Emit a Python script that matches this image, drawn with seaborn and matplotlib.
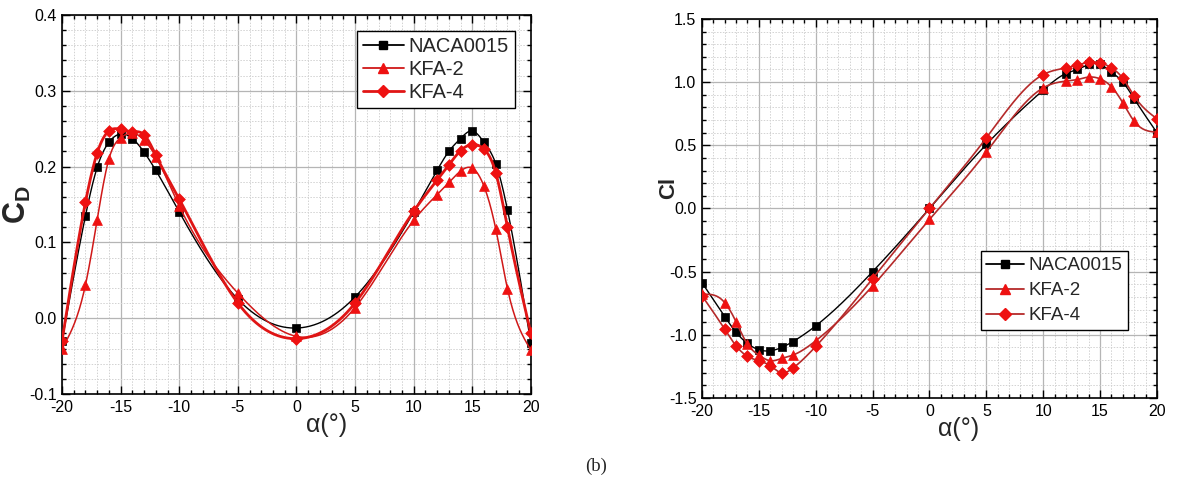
import numpy as np
import pandas as pd
import matplotlib
matplotlib.use("Agg")
import matplotlib.pyplot as plt
from matplotlib.lines import Line2D
from matplotlib.ticker import MultipleLocator, FormatStrFormatter
import seaborn as sns

# ---------------- data ----------------
alpha = [-20, -18, -17, -16, -15, -14, -13, -12, -10, -5, 0, 5,
         10, 12, 13, 14, 15, 16, 17, 18, 20]

cd_naca = [-0.030, 0.135, 0.199, 0.232, 0.243, 0.237, 0.219, 0.195, 0.140, 0.025, -0.013, 0.028,
           0.140, 0.195, 0.220, 0.237, 0.247, 0.232, 0.204, 0.143, -0.033]
cd_kfa2 = [-0.040, 0.044, 0.130, 0.210, 0.238, 0.244, 0.235, 0.213, 0.148, 0.033, -0.024, 0.014,
           0.129, 0.163, 0.179, 0.194, 0.198, 0.174, 0.118, 0.039, -0.042]
cd_kfa4 = [-0.030, 0.153, 0.218, 0.247, 0.249, 0.246, 0.242, 0.215, 0.157, 0.020, -0.027, 0.020,
           0.141, 0.182, 0.202, 0.221, 0.229, 0.223, 0.192, 0.120, -0.020]

cl_naca = [-0.587, -0.855, -0.980, -1.068, -1.118, -1.126, -1.100, -1.053, -0.929, -0.500, 0.000, 0.507,
           0.937, 1.068, 1.100, 1.140, 1.140, 1.080, 1.000, 0.868, 0.600]
cl_kfa2 = [-0.680, -0.745, -0.897, -1.074, -1.160, -1.205, -1.187, -1.160, -1.047, -0.613, -0.087, 0.446,
           0.955, 1.008, 1.020, 1.040, 1.026, 0.963, 0.836, 0.690, 0.604]
cl_kfa4 = [-0.690, -0.955, -1.087, -1.170, -1.205, -1.245, -1.300, -1.263, -1.092, -0.555, 0.000, 0.559,
           1.060, 1.113, 1.135, 1.158, 1.153, 1.113, 1.030, 0.889, 0.710]

series_names = ["NACA0015", "KFA-2", "KFA-4"]
xticks = [-20, -15, -10, -5, 0, 5, 10, 15, 20]


def natural_spline(x, y, num=600):
    x = np.asarray(x, float)
    y = np.asarray(y, float)
    n = len(x)
    h = np.diff(x)
    A = np.zeros((n, n))
    b = np.zeros(n)
    A[0, 0] = 1.0
    A[-1, -1] = 1.0
    for i in range(1, n - 1):
        A[i, i - 1] = h[i - 1]
        A[i, i] = 2 * (h[i - 1] + h[i])
        A[i, i + 1] = h[i]
        b[i] = 6 * ((y[i + 1] - y[i]) / h[i] - (y[i] - y[i - 1]) / h[i - 1])
    M = np.linalg.solve(A, b)
    xs = np.linspace(x[0], x[-1], num)
    idx = np.clip(np.searchsorted(x, xs, side="right") - 1, 0, n - 2)
    hi = h[idx]
    x0 = x[idx]
    x1 = x[idx + 1]
    ys = (M[idx] * (x1 - xs) ** 3 / (6 * hi) + M[idx + 1] * (xs - x0) ** 3 / (6 * hi)
          + (y[idx] / hi - M[idx] * hi / 6) * (x1 - xs)
          + (y[idx + 1] / hi - M[idx + 1] * hi / 6) * (xs - x0))
    return xs, ys


sns.set_theme(style="white")
plt.rcParams["font.family"] = ["Liberation Sans", "DejaVu Sans"]
plt.rcParams["axes.unicode_minus"] = False
plt.rcParams["mathtext.fontset"] = "custom"
plt.rcParams["mathtext.rm"] = "Liberation Sans"
plt.rcParams["mathtext.bf"] = "Liberation Sans:bold"

fig = plt.figure(figsize=(11.93, 4.86), dpi=100)
axL = fig.add_axes([0.052, 0.1893, 0.393, 0.780])
axR = fig.add_axes([0.5884, 0.181, 0.3814, 0.780])

red_mk = "#ee1111"


def draw(ax, ys_list, styles):
    for yv, st in zip(ys_list, styles):
        xs, ysm = natural_spline(alpha, yv)
        dfl = pd.DataFrame({"a": xs, "v": ysm})
        sns.lineplot(data=dfl, x="a", y="v", color=st["lc"], lw=st["lw"], ax=ax,
                     estimator=None, sort=False, zorder=st["z"])
        dfp = pd.DataFrame({"a": alpha, "v": yv})
        sns.scatterplot(data=dfp, x="a", y="v", marker=st["m"], s=st["s"], color=st["mc"],
                        edgecolor=st["mc"], linewidth=0.5, ax=ax, zorder=st["z"] + 0.5)


stylesL = [dict(lc="black", lw=1.0, m="s", s=36, mc="black", z=3),
           dict(lc="#d01818", lw=1.1, m="^", s=50, mc=red_mk, z=4),
           dict(lc="#e01515", lw=2.0, m="D", s=36, mc=red_mk, z=5)]
stylesR = [dict(lc="black", lw=1.0, m="s", s=36, mc="black", z=3),
           dict(lc="#b52a2a", lw=1.2, m="^", s=50, mc=red_mk, z=4),
           dict(lc="#b52a2a", lw=1.2, m="D", s=36, mc=red_mk, z=5)]

draw(axL, [cd_naca, cd_kfa2, cd_kfa4], stylesL)
draw(axR, [cl_naca, cl_kfa2, cl_kfa4], stylesR)


def style_axes(ax, ylim, ymaj, ymin, yfmt):
    ax.set_xlim(-20, 20)
    ax.set_ylim(*ylim)
    ax.set_xticks(xticks)
    ax.xaxis.set_minor_locator(MultipleLocator(1))
    ax.yaxis.set_major_locator(MultipleLocator(ymaj))
    ax.yaxis.set_minor_locator(MultipleLocator(ymin))
    ax.yaxis.set_major_formatter(FormatStrFormatter(yfmt))
    ax.xaxis.set_major_formatter(FormatStrFormatter("%d"))
    ax.grid(True, which="major", color="#b5b5b5", lw=0.9, ls="-")
    ax.grid(True, which="minor", color="#d2d2d2", lw=0.7, ls=(0, (1.5, 1.5)))
    ax.set_axisbelow(True)
    ax.tick_params(which="both", direction="in", top=True, right=True, bottom=True, left=True,
                   colors="black", labelsize=11.5, width=1.0)
    ax.tick_params(which="major", length=6, pad=4)
    ax.tick_params(which="minor", length=3)
    for sp in ax.spines.values():
        sp.set_visible(True)
        sp.set_color("black")
        sp.set_linewidth(1.2)
    ax.set_xlabel("α(°)", fontsize=18)
    ax.xaxis.set_label_coords(0.565, -0.083)
    ax.xaxis.label.set_va("center")


style_axes(axL, (-0.1, 0.4), 0.1, 0.02, "%.1f")
style_axes(axR, (-1.5, 1.5), 0.5, 0.1, "%.1f")

axL.set_ylabel(r"$\mathbf{C_D}$", fontsize=22)
axL.yaxis.set_label_coords(-0.062, 0.5)
axR.set_ylabel("Cl", fontsize=16, fontweight="bold")
axR.yaxis.set_label_coords(-0.05, 0.555)


def make_handles(styles):
    hs = []
    for st in styles:
        ms = {"s": 6, "^": 7.5, "D": 6}[st["m"]]
        hs.append(Line2D([0], [0], color=st["lc"], lw=max(st["lw"], 1.3), marker=st["m"],
                         markersize=ms, markerfacecolor=st["mc"], markeredgecolor=st["mc"]))
    return hs


for ax, styles, anchor, fs, lsp in [(axL, stylesL, (0.966, 0.958), 14.5, 0.2),
                                    (axR, stylesR, (0.936, 0.387), 13.5, 0.42)]:
    leg = ax.legend(make_handles(styles), series_names, loc="upper right",
                    bbox_to_anchor=anchor, fontsize=fs, frameon=True, fancybox=False,
                    edgecolor="black", framealpha=1, handlelength=2.0, handletextpad=0.25,
                    borderpad=0.3, labelspacing=lsp, borderaxespad=0.0)
    leg.get_frame().set_linewidth(1.0)

fig.text(0.5, 0.041, "(b)", ha="center", va="center", fontsize=13.5,
         family=["Liberation Serif", "DejaVu Serif"])

fig.savefig("out.png", dpi=100)
